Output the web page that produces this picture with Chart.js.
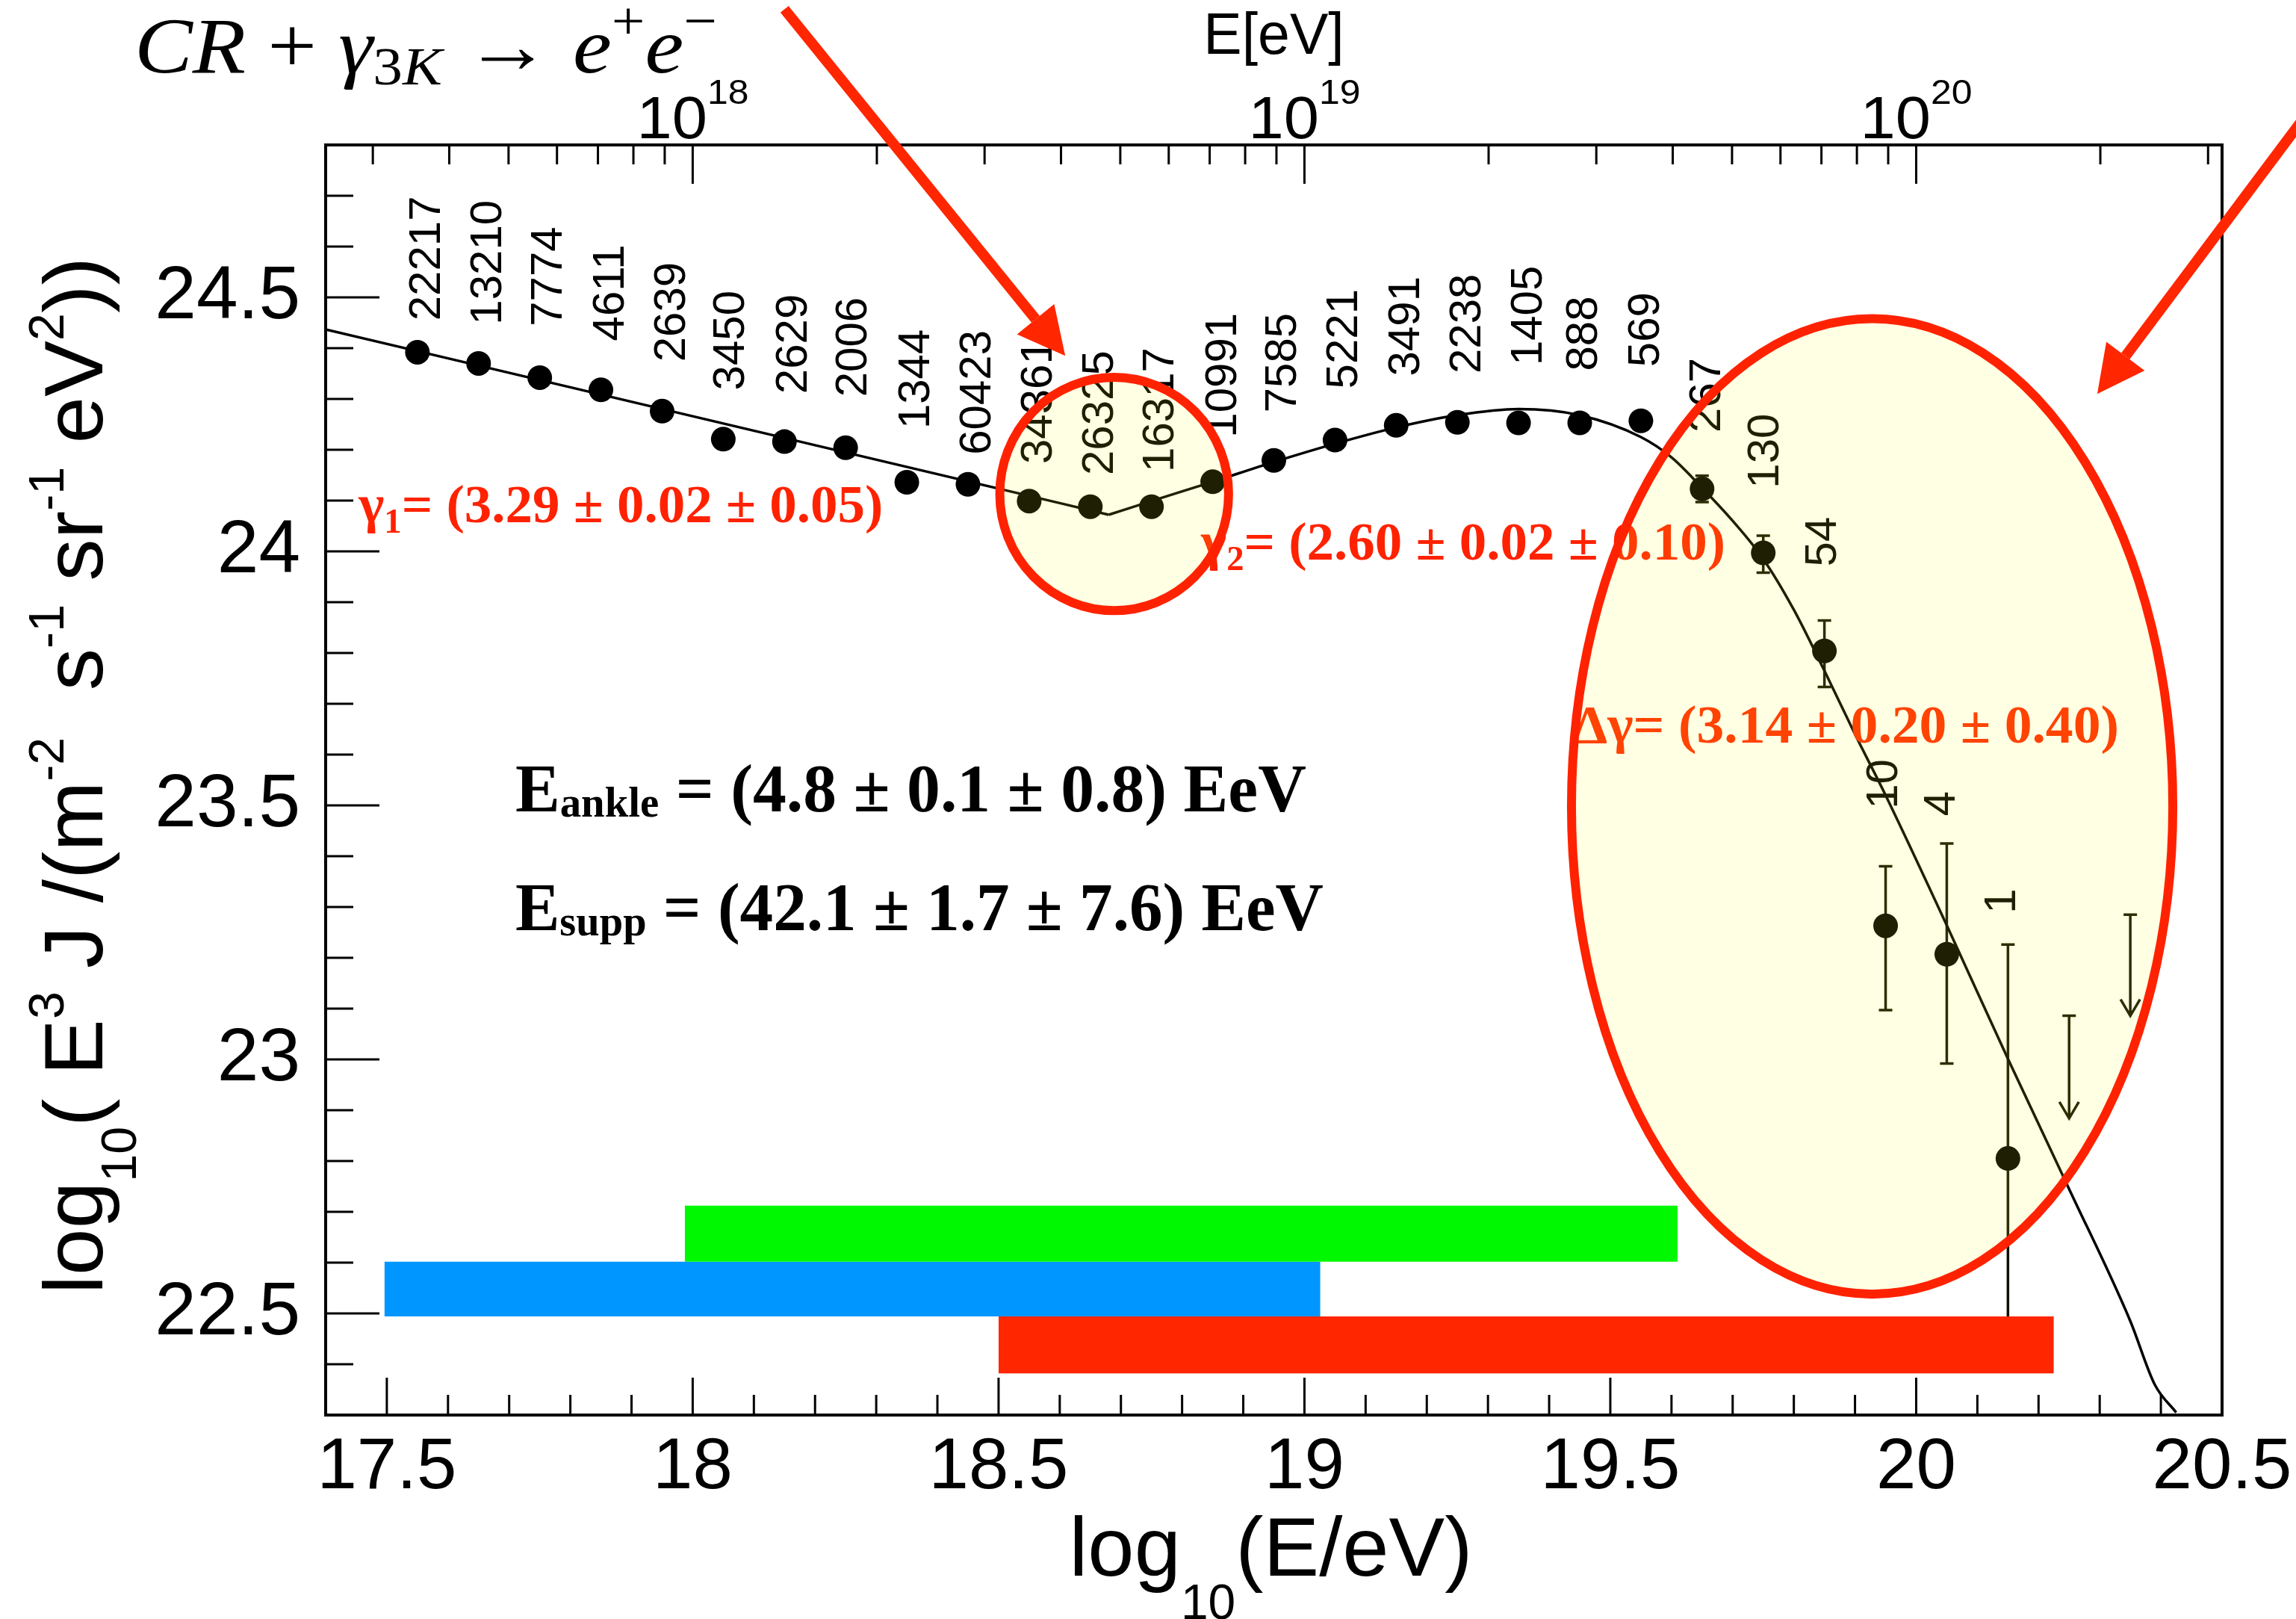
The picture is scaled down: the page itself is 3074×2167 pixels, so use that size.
<!DOCTYPE html>
<html><head><meta charset="utf-8">
<script src="https://cdn.jsdelivr.net/npm/chart.js@4/dist/chart.umd.min.js"></script>
<style>html,body{margin:0;padding:0;background:#fff;}canvas{display:block;}</style>
</head><body>
<canvas id="c" width="3074" height="2167"></canvas>
<script>
// ================= DATA =================
// bin centres, log10(E/eV)
const logEnergy = [17.55,17.65,17.75,17.85,17.95,18.05,18.15,18.25,18.35,18.45,18.55,18.65,18.75,18.85,18.95,19.05,19.15,19.25,19.35,19.45,19.55,19.65,19.75,19.85,19.95,20.05,20.15];
// log10(E^3 J)
const logE3J = [24.392,24.370,24.342,24.318,24.276,24.221,24.216,24.204,24.136,24.132,24.099,24.088,24.088,24.137,24.179,24.219,24.248,24.254,24.253,24.253,24.257,24.123,23.997,23.804,23.263,23.207,22.805];
const errUp   = [0,0,0,0,0,0,0,0,0,0,0,0,0,0,0,0,0,0,0,0,0,0.026,0.034,0.060,0.117,0.218,0.421];
const errDown = [0,0,0,0,0,0,0,0,0,0,0,0,0,0,0,0,0,0,0,0,0,0.026,0.039,0.071,0.166,0.215,0.400];
// number of events per bin
const eventCounts = [22217,13210,7774,4611,2639,3450,2629,2006,1344,60423,34361,26325,16317,10991,7585,5221,3491,2238,1405,888,569,267,130,54,10,4,1];
// upper limits
const limitLogE = [20.25,20.35];
const limitValue = [23.086,23.285];
const limitArrowTip = [22.884,23.086];
// fitted spectrum
const fitLogE  = [17.40,17.60,17.80,18.00,18.20,18.40,18.60,18.68,18.75,18.85,18.95,19.05,19.15,19.25,19.35,19.45,19.55,19.60,19.65,19.70,19.75,19.80,19.85,19.90,19.95,20.05,20.15,20.25,20.35,20.39,20.425];
const fitValue = [24.437,24.380,24.323,24.266,24.209,24.152,24.095,24.072,24.099,24.137,24.176,24.212,24.244,24.268,24.280,24.268,24.225,24.185,24.125,24.060,23.985,23.885,23.765,23.640,23.520,23.264,23.001,22.745,22.485,22.360,22.305];
const ankleLogE = 18.68;
// energy-range bands
const bandFrom   = [17.987,17.496,18.500];
const bandTo     = [19.610,19.026,20.225];
const bandBottom = [22.602,22.494,22.382];
const bandTop    = [22.712,22.602,22.494];
const bandColors = ['#00F800','#0096FF','#FF2600'];
// axes
const xTickVals = [17.5,18,18.5,19,19.5,20,20.5];
const yTickVals = [22.5,23,23.5,24,24.5];
const topTickExps = [18,19,20];
const xRange = [17.4,20.5];
const yRange = [22.3,24.8];

// ================= ANNOTATIONS (data units) =================
const countLabelX = [17.567,17.667,17.766,17.867,17.967,18.064,18.166,18.264,18.366,18.467,18.566,18.667,18.765,18.868,18.966,19.066,19.167,19.267,19.368,19.458,19.559,19.659,19.755,19.849,19.949,20.043,20.142];
const countLabelY = [24.454,24.446,24.443,24.414,24.373,24.317,24.310,24.304,24.241,24.190,24.172,24.150,24.156,24.224,24.273,24.320,24.345,24.350,24.366,24.355,24.363,24.234,24.124,23.970,23.493,23.479,23.287];
const ellipseCx = [18.689,19.928];
const ellipseCy = [24.113,23.498];
const ellipseRx = [0.187,0.4915];
const ellipseRy = [0.2296,0.960];
const arrowFrom = [[18.150,25.067],[20.689,24.942]];
const arrowTo   = [[18.609,24.385],[20.296,24.310]];

const SERIF = '"Liberation Serif", "Times New Roman", serif';
const SANS = '"Liberation Sans", Arial, sans-serif';
const RED = '#FF2200';

const notes = [
  {x:17.454, y:24.058, w:702, color:RED, segs:[['γ','b72'],['1','b46',14],['= (3.29 ± 0.02 ± 0.05)','b72']]},
  {x:18.831, y:23.984, w:702, color:RED, segs:[['γ','b72'],['2','b46',14],['= (2.60 ± 0.02 ± 0.10)','b72']]},
  {x:19.439, y:23.623, w:731, color:'#FF2A00', segs:[['Δγ= (3.14 ± 0.20 ± 0.40)','b72']]},
  {x:17.710, y:23.488, w:1059, color:'#000', segs:[['E','b90'],['ankle','b57',7],[' = (4.8 ± 0.1 ± 0.8) EeV','b90']]},
  {x:17.710, y:23.255, w:1082, color:'#000', segs:[['E','b90'],['supp','b57',7],[' = (42.1 ± 1.7 ± 7.6) EeV','b90']]}
];
function serifFont(code){ return 'bold ' + code.slice(1) + 'px ' + SERIF; }

// ================= HELPERS =================
function drawRich(ctx, segs, x, y, opts) {
  let nat = 0;
  for (const s of segs) { ctx.font = s.f; s.w = ctx.measureText(s.t).width; nat += s.w; }
  const sx = opts.w ? opts.w / nat : 1;
  ctx.save();
  ctx.translate(x, y);
  ctx.scale(sx, 1);
  let cx = opts.align === 'center' ? -nat / 2 : 0;
  ctx.textAlign = 'left';
  ctx.textBaseline = 'alphabetic';
  for (const s of segs) {
    ctx.font = s.f;
    ctx.fillStyle = s.c || opts.color || '#000';
    ctx.fillText(s.t, cx, s.dy || 0);
    cx += s.w;
  }
  ctx.restore();
}

const decor = {
  id: 'decor',
  beforeDatasetsDraw(chart) {
    const {ctx, scales:{x, y}} = chart;
    ctx.save();
    ctx.strokeStyle = '#111100';
    ctx.lineWidth = 3.5;
    const cap = 9;
    logEnergy.forEach((e, i) => {
      if (!errUp[i] && !errDown[i]) return;
      const xp = x.getPixelForValue(e);
      const y1 = y.getPixelForValue(logE3J[i] + errUp[i]);
      const y2 = y.getPixelForValue(logE3J[i] - errDown[i]);
      ctx.beginPath();
      ctx.moveTo(xp, y1); ctx.lineTo(xp, y2);
      ctx.moveTo(xp - cap, y1); ctx.lineTo(xp + cap, y1);
      ctx.moveTo(xp - cap, y2); ctx.lineTo(xp + cap, y2);
      ctx.stroke();
    });
    limitLogE.forEach((e, i) => {
      const xp = x.getPixelForValue(e);
      const y1 = y.getPixelForValue(limitValue[i]);
      const y2 = y.getPixelForValue(limitArrowTip[i]);
      ctx.beginPath();
      ctx.moveTo(xp - cap, y1); ctx.lineTo(xp + cap, y1);
      ctx.moveTo(xp, y1); ctx.lineTo(xp, y2);
      ctx.moveTo(xp - 13, y2 - 22); ctx.lineTo(xp, y2); ctx.lineTo(xp + 13, y2 - 22);
      ctx.stroke();
    });
    ctx.restore();
  },
  afterDatasetsDraw(chart) {
    const {ctx, scales:{x, y}} = chart;
    // event counts
    ctx.save();
    ctx.fillStyle = '#000';
    ctx.font = '60px ' + SANS;
    ctx.textAlign = 'left';
    ctx.textBaseline = 'middle';
    eventCounts.forEach((n, i) => {
      ctx.save();
      ctx.translate(x.getPixelForValue(countLabelX[i]), y.getPixelForValue(countLabelY[i]));
      ctx.rotate(-Math.PI / 2);
      ctx.fillText(String(n), 0, 0);
      ctx.restore();
    });
    ctx.restore();
    // fit results
    notes.forEach(n => {
      const segs = n.segs.map(s => ({t:s[0], f:serifFont(s[1]), dy:s[2] || 0}));
      drawRich(ctx, segs, x.getPixelForValue(n.x), y.getPixelForValue(n.y), {w:n.w, color:n.color});
    });
    // highlighted regions
    ctx.save();
    ellipseCx.forEach((cx, i) => {
      const xp = x.getPixelForValue(cx), yp = y.getPixelForValue(ellipseCy[i]);
      const rx = Math.abs(x.getPixelForValue(cx + ellipseRx[i]) - xp);
      const ry = Math.abs(y.getPixelForValue(ellipseCy[i] + ellipseRy[i]) - yp);
      ctx.beginPath();
      ctx.ellipse(xp, yp, rx, ry, 0, 0, Math.PI * 2);
      ctx.fillStyle = 'rgba(255,255,25,0.12)';
      ctx.fill();
      ctx.lineWidth = 12;
      ctx.strokeStyle = RED;
      ctx.stroke();
    });
    ctx.restore();
  },
  afterDraw(chart) {
    const {ctx, chartArea:ca, scales:{x, y}} = chart;
    ctx.save();
    ctx.strokeStyle = '#000';
    // frame
    ctx.lineWidth = 4;
    ctx.strokeRect(ca.left, ca.top, ca.right - ca.left, ca.bottom - ca.top);
    ctx.lineWidth = 3;
    ctx.beginPath();
    // left ticks
    for (let k = 0; k <= 25; k++) {
      const v = Math.round((yRange[0] + k * 0.1) * 10) / 10;
      if (v <= yRange[0] || v >= yRange[1]) continue;
      const major = yTickVals.includes(v);
      const yp = y.getPixelForValue(v);
      ctx.moveTo(ca.left, yp); ctx.lineTo(ca.left + (major ? 72 : 37), yp);
    }
    // bottom ticks
    for (let k = 0; k <= 31; k++) {
      const v = Math.round((xRange[0] + k * 0.1) * 10) / 10;
      if (v <= xRange[0] || v >= xRange[1]) continue;
      const major = xTickVals.includes(v);
      const xp = x.getPixelForValue(v);
      ctx.moveTo(xp, ca.bottom); ctx.lineTo(xp, ca.bottom - (major ? 50 : 27));
    }
    // top (log energy) ticks
    for (let n = 17; n <= 20; n++) {
      for (let m = 1; m <= 9; m++) {
        const v = n + Math.log10(m);
        if (v <= xRange[0] || v >= xRange[1]) continue;
        const xp = x.getPixelForValue(v);
        ctx.moveTo(xp, ca.top); ctx.lineTo(xp, ca.top + (m === 1 ? 52 : 26));
      }
    }
    ctx.stroke();
    ctx.restore();

    // top axis labels 10^n
    topTickExps.forEach(n => {
      const xp = x.getPixelForValue(n);
      const segs = [{t:'10', f:'80px ' + SANS}, {t:String(n), f:'47px ' + SANS, dy:-46}];
      drawRich(ctx, segs, xp, ca.top - 9, {align:'center', color:'#000', w:150});
    });
    const midX = (ca.left + ca.right) / 2;
    ctx.save();
    ctx.font = '77px ' + SANS; ctx.fillStyle = '#000'; ctx.textAlign = 'center'; ctx.textBaseline = 'alphabetic';
    ctx.fillText('E[eV]', midX, ca.top - 122);
    ctx.restore();

    // x title
    const M = '112px ' + SANS, S = '66px ' + SANS;
    drawRich(ctx, [{t:'log', f:M}, {t:'10', f:S, dy:58}, {t:'(E/eV)', f:M}], midX - 4, ca.bottom + 215, {align:'center', w:540});
    // y title
    ctx.save();
    ctx.translate(ca.left - 299, (ca.top + ca.bottom) / 2 - 6);
    ctx.rotate(-Math.PI / 2);
    drawRich(ctx, [
      {t:'log', f:M}, {t:'10', f:S, dy:45}, {t:'( E', f:M}, {t:'3', f:S, dy:-52},
      {t:' J /(m', f:M}, {t:'-2', f:S, dy:-52}, {t:'  s', f:M}, {t:'-1', f:S, dy:-52},
      {t:' sr', f:M}, {t:'-1', f:S, dy:-52}, {t:' eV', f:M}, {t:'2', f:S, dy:-52}, {t:'))', f:M}
    ], 0, 0, {align:'center', w:1388});
    ctx.restore();

    // reaction formula
    const I = 'italic 106px ' + SERIF, R = '106px ' + SERIF, IS = 'italic 72px ' + SERIF, RS = '72px ' + SERIF;
    drawRich(ctx, [
      {t:'CR', f:I}, {t:' + ', f:R}, {t:'γ', f:I}, {t:'3', f:RS, dy:16}, {t:'K', f:IS, dy:16},
      {t:' → ', f:R}, {t:'e', f:I}, {t:'+', f:RS, dy:-45}, {t:'e', f:I}, {t:'−', f:RS, dy:-45}
    ], 180, 97, {w:780});

    // arrows
    ctx.save();
    ctx.strokeStyle = '#FF2600'; ctx.fillStyle = '#FF2600';
    arrowFrom.forEach((f, i) => {
      const x0 = x.getPixelForValue(f[0]), y0 = y.getPixelForValue(f[1]);
      const x1 = x.getPixelForValue(arrowTo[i][0]), y1 = y.getPixelForValue(arrowTo[i][1]);
      const a = Math.atan2(y1 - y0, x1 - x0);
      const L = 63, H = 32;
      const bx = x1 - L * Math.cos(a), by = y1 - L * Math.sin(a);
      ctx.lineWidth = 14;
      ctx.beginPath(); ctx.moveTo(x0, y0); ctx.lineTo(bx, by); ctx.stroke();
      ctx.beginPath();
      ctx.moveTo(x1, y1);
      ctx.lineTo(bx + H * Math.sin(a), by - H * Math.cos(a));
      ctx.lineTo(bx - H * Math.sin(a), by + H * Math.cos(a));
      ctx.closePath(); ctx.fill();
    });
    ctx.restore();
  }
};

// ================= CHART =================
const pts = logEnergy.map((e, i) => ({x:e, y:logE3J[i]}));
const fitPts = fitLogE.map((e, i) => ({x:e, y:fitValue[i]}));
const ai = fitLogE.indexOf(ankleLogE);
const datasets = [
  {label:'data', data:pts, showLine:false, pointRadius:16.5, pointHoverRadius:16.5,
   pointBackgroundColor:'#000', pointBorderColor:'#000', pointBorderWidth:0},
  {label:'fit1', data:fitPts.slice(0, ai + 1), borderColor:'#000', borderWidth:3.5, pointRadius:0, tension:0, fill:false},
  {label:'fit2', data:fitPts.slice(ai), borderColor:'#000', borderWidth:3.5, pointRadius:0, cubicInterpolationMode:'monotone', fill:false}
];
bandFrom.forEach((f, i) => {
  datasets.push({label:'band' + i, data:[{x:f, y:bandTop[i]}, {x:bandTo[i], y:bandTop[i]}],
    borderWidth:0, borderColor:bandColors[i], backgroundColor:bandColors[i], pointRadius:0,
    tension:0, fill:{value:bandBottom[i]}});
});

new Chart(document.getElementById('c'), {
  type: 'line',
  data: {datasets},
  options: {
    responsive:false, devicePixelRatio:1, animation:false, events:[],
    layout:{padding:{left:0, top:0, right:99, bottom:0}},
    plugins:{legend:{display:false}, tooltip:{enabled:false}},
    scales:{
      x:{type:'linear', position:'bottom', min:xRange[0], max:xRange[1],
        afterBuildTicks:s => { s.ticks = xTickVals.map(v => ({value:v})); },
        afterFit:s => { s.height = 273; s.paddingLeft = 0; s.paddingRight = 0; },
        grid:{display:false, drawTicks:false}, border:{display:false},
        ticks:{autoSkip:false, maxRotation:0, minRotation:0, padding:14, color:'#000',
          font:{family:'Liberation Sans', size:96}, callback:v => String(v)}},
      x2:{type:'linear', position:'top', min:xRange[0], max:xRange[1],
        afterFit:s => { s.height = 194; s.paddingLeft = 0; s.paddingRight = 0; },
        grid:{display:false, drawTicks:false}, border:{display:false}, ticks:{display:false}},
      y:{type:'linear', position:'left', min:yRange[0], max:yRange[1],
        afterBuildTicks:s => { s.ticks = yTickVals.map(v => ({value:v})); },
        afterFit:s => { s.width = 436; s.paddingTop = 0; s.paddingBottom = 0; },
        grid:{display:false, drawTicks:false}, border:{display:false},
        ticks:{autoSkip:false, padding:34, color:'#000',
          font:{family:'Liberation Sans', size:100}, callback:v => String(v)}}
    }
  },
  plugins:[decor]
});
</script>
</body></html>
